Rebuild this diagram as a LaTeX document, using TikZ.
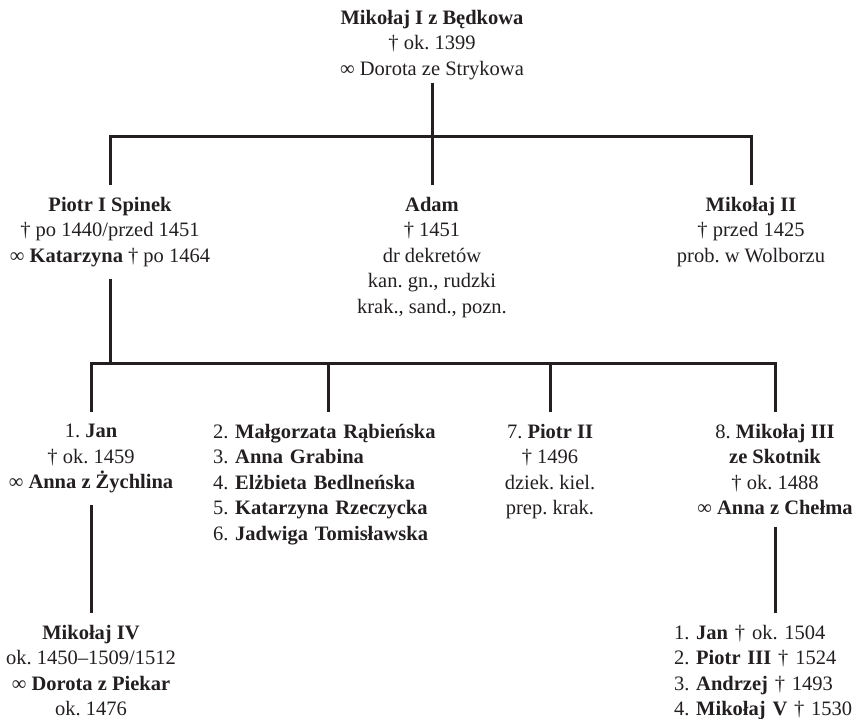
\documentclass[tikz,border=0pt]{standalone}
\usepackage{fontspec}
\setmainfont{Liberation Serif}
\usetikzlibrary{positioning}
\definecolor{ink}{RGB}{35,31,32}
\tikzset{person/.style={align=center, inner sep=0pt, outer ysep=12pt, text=ink,
    font=\fontsize{20.5}{25.5}\selectfont\frenchspacing}}
\tikzset{listing/.style={person, align=left}}
\tikzstyle{line} = [draw=ink, line width=3pt]

\begin{document}
\begin{tikzpicture}[x=1pt, y=-1pt]
\useasboundingbox (0,0) rectangle (853,719);

% generation I
\node[person, anchor=north, outer ysep=3pt] (mik1) at (432,7)
  {\textbf{Mikołaj I z Będkowa}\\† ok. 1399\\∞ Dorota ze Strykowa};

% generation II
\node[person, anchor=north] (piotr1) at (110,185)
  {\textbf{Piotr I Spinek}\\† po 1440/przed 1451\\∞ \textbf{Katarzyna} † po 1464};
\node[person, anchor=north] (adam) at (432,185)
  {\textbf{Adam}\\† 1451\\dr dekretów\\kan. gn., rudzki\\krak., sand., pozn.};
\node[person, anchor=north] (mik2) at (751,185)
  {\textbf{Mikołaj II}\\† przed 1425\\prob. w Wolborzu};

% generation III
\node[person, anchor=north] (jan) at (91,412)
  {1. \textbf{Jan}\\† ok. 1459\\∞ \textbf{Anna z Żychlina}};
\node[listing, anchor=north, text width=230pt] (daughters) at (328,412)
  {2. \textbf{Małgorzata Rąbieńska}\\3. \textbf{Anna Grabina}\\4. \textbf{Elżbieta Bedlneńska}\\
   5. \textbf{Katarzyna Rzeczycka}\\6. \textbf{Jadwiga Tomisławska}};
\node[person, anchor=north] (piotr2) at (550,412)
  {7. \textbf{Piotr II}\\† 1496\\dziek. kiel.\\prep. krak.};
\node[person, anchor=north] (mik3) at (775,412)
  {8. \textbf{Mikołaj III}\\\textbf{ze Skotnik}\\† ok. 1488\\∞ \textbf{Anna z Chełma}};

% generation IV
\node[person, anchor=north] (mik4) at (91,613)
  {\textbf{Mikołaj IV}\\ok. 1450–1509/1512\\∞ \textbf{Dorota z Piekar}\\ok. 1476};
\node[listing, anchor=north, text width=202pt] (sons) at (775,613)
  {1. \textbf{Jan} † ok. 1504\\2. \textbf{Piotr III} † 1524\\3. \textbf{Andrzej} † 1493\\
   4. \textbf{Mikołaj V} † 1530};

\coordinate (bus1) at (432,137);
\coordinate (bus2) at (110,363);

\draw[line] (mik1) -- (adam);
\draw[line] (piotr1) |- (bus1 -| mik2) -- (mik2);

\draw[line] (piotr1) -- (piotr1 |- bus2);
\draw[line] (jan) |- (bus2 -| mik3) -- (mik3);
\draw[line] (daughters) -- (daughters |- bus2);
\draw[line] (piotr2) -- (piotr2 |- bus2);

\draw[line] (jan) -- (mik4);
\draw[line] (mik3) -- (sons);

\end{tikzpicture}
\end{document}
